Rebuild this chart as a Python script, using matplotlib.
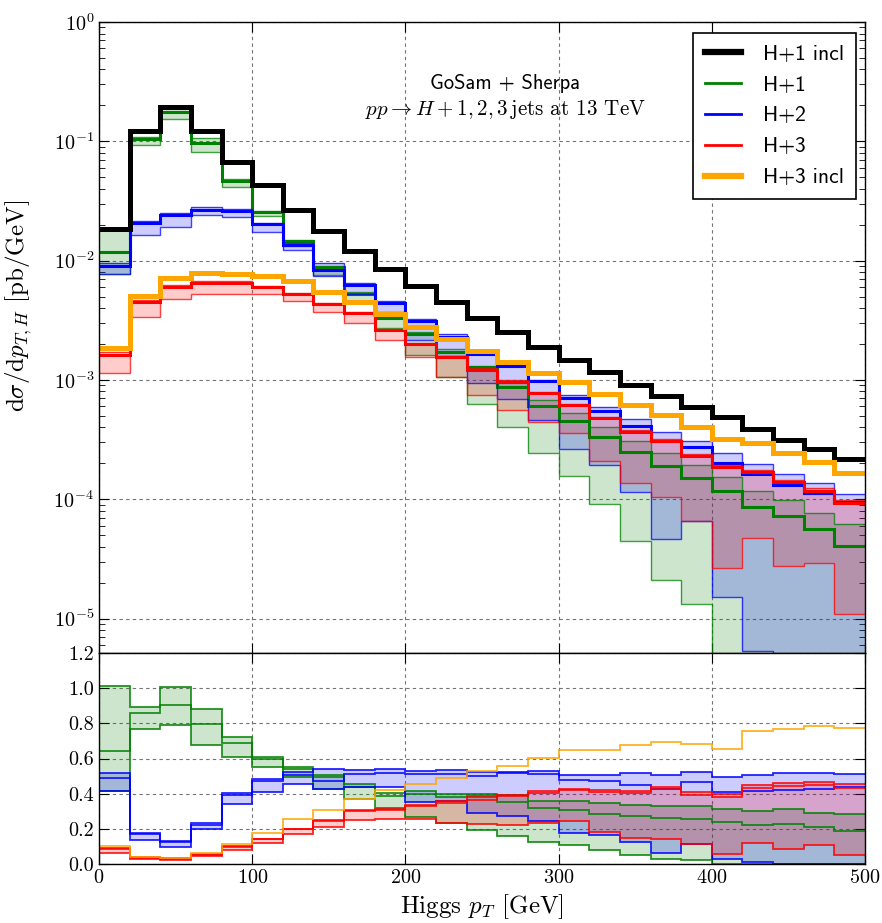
import numpy as np
import matplotlib
matplotlib.use("Agg")
from matplotlib import pyplot as plt
from matplotlib.lines import Line2D

plt.rcParams['font.family'] = ['cmr10', 'DejaVu Serif']
plt.rcParams['mathtext.fontset'] = 'cm'
plt.rcParams['axes.unicode_minus'] = False
plt.rcParams['axes.formatter.use_mathtext'] = True

# bin edges in Higgs pT [GeV]
pt_edges = np.arange(0, 501, 20)

# H+1 incl (central)
h1incl = [0.0185, 0.121, 0.195, 0.121, 0.0675, 0.0428, 0.0268, 0.0177, 0.0121, 0.0085,
          0.0061, 0.0045, 0.0033, 0.00251, 0.0019, 0.00147, 0.00117, 0.00091, 0.00073, 0.00059,
          0.00049, 0.00039, 0.000315, 0.000263, 0.000216]
# H+3 incl (central)
h3incl = [0.00186, 0.00508, 0.0071, 0.0079, 0.0077, 0.0075, 0.0068, 0.00548, 0.00448, 0.00358,
          0.00279, 0.00219, 0.00174, 0.0014, 0.00115, 0.000955, 0.000757, 0.000616, 0.000508, 0.000401,
          0.00032, 0.000294, 0.000242, 0.000206, 0.000167]
# H+1 exclusive with scale band
h1_c = [0.0119, 0.104, 0.176, 0.096, 0.0463, 0.0255, 0.0145, 0.0088, 0.0053, 0.0033,
        0.00244, 0.00172, 0.00128, 0.00088, 0.0006, 0.000455, 0.00033, 0.00025, 0.00019, 0.000151,
        0.000118, 8.65e-5, 7.23e-5, 5.59e-5, 4.08e-5]
h1_hi = [0.0187, 0.108, 0.196, 0.107, 0.0487, 0.0261, 0.0148, 0.0090, 0.0055, 0.00345,
         0.00253, 0.0018, 0.00132, 0.00098, 0.00068, 0.000525, 0.000405, 0.000305, 0.000242, 0.000194,
         0.000153, 0.000117, 9.85e-5, 7.7e-5, 6.16e-5]
h1_lo = [0.0077, 0.093, 0.154, 0.082, 0.0411, 0.0235, 0.0133, 0.0076, 0.0045, 0.0027,
         0.00163, 0.00105, 0.00063, 0.0004, 0.000242, 0.000157, 9.06e-5, 4.46e-5, 2.1e-5, 1.32e-5,
         1e-7, 1e-7, 1e-7, 1e-7, 1e-7]
# H+2
h2_c = [0.0090, 0.0205, 0.0242, 0.0268, 0.0263, 0.0201, 0.0136, 0.0084, 0.0062, 0.0044,
        0.00312, 0.0023, 0.00166, 0.0013, 0.00097, 0.0007, 0.000552, 0.00041, 0.00031, 0.000275,
        0.0002, 0.000163, 0.000132, 0.000112, 9.5e-5]
h2_hi = [0.0096, 0.0216, 0.0252, 0.028, 0.0272, 0.0208, 0.0140, 0.0096, 0.0065, 0.0046,
         0.00322, 0.00241, 0.00172, 0.00131, 0.001, 0.000747, 0.000589, 0.00047, 0.000368, 0.00031,
         0.000242, 0.000197, 0.000163, 0.000136, 0.00011]
h2_lo = [0.0077, 0.0163, 0.019, 0.0241, 0.0231, 0.0175, 0.0122, 0.0075, 0.0053, 0.0037,
         0.00216, 0.0016, 0.00095, 0.00069, 0.00046, 0.000262, 0.000194, 0.000115, 4.6e-5, 6.6e-5,
         1.52e-5, 5.3e-6, 1e-7, 1e-7, 1e-7]
# H+3
h3_c = [0.00163, 0.00447, 0.006, 0.0065, 0.0065, 0.006, 0.0053, 0.00433, 0.00362, 0.00262,
        0.002, 0.00155, 0.00121, 0.000966, 0.000771, 0.000616, 0.000477, 0.000368, 0.00031, 0.00023,
        0.000187, 0.000168, 0.00014, 0.000118, 9.3e-5]
h3_hi = [0.00172, 0.00468, 0.0063, 0.0068, 0.0068, 0.0061, 0.0054, 0.00444, 0.00373, 0.00267,
         0.00205, 0.0016, 0.00125, 0.00099, 0.00079, 0.00063, 0.00049, 0.00038, 0.00032, 0.00024,
         0.000195, 0.000175, 0.000145, 0.000123, 9.8e-5]
h3_lo = [0.00115, 0.0034, 0.0048, 0.0053, 0.0052, 0.0052, 0.0046, 0.00373, 0.003, 0.00216,
         0.00155, 0.00105, 0.00075, 0.00056, 0.000446, 0.00036, 0.00021, 0.000136, 0.000105, 6.6e-5,
         2.67e-5, 4.7e-5, 2.77e-5, 2.9e-5, 1.09e-5]

labels = ['H+1 incl', 'H+1', 'H+2', 'H+3', 'H+3 incl']
colors = ['black', 'green', 'blue', 'red', 'orange']

bands = [(h1_c, h1_hi, h1_lo, 'green'),
         (h2_c, h2_hi, h2_lo, 'blue'),
         (h3_c, h3_hi, h3_lo, 'red')]

ref = np.array(h1incl)

fig = plt.figure(figsize=(8.82, 9.23), dpi=100)
ax = fig.add_axes([99/882, 1-653/923, 766/882, 631/923])
rax = fig.add_axes([99/882, 1-864/923, 766/882, 211/923], sharex=ax)

grid_kw = dict(ls=(0, (3, 3)), color='0.45', lw=0.8)

# ---- main panel
for c, hi, lo, col in bands:
    ax.stairs(hi, pt_edges, baseline=lo, fill=True, color=col, alpha=0.2, lw=0)
for c, hi, lo, col in bands:
    ax.stairs(hi, pt_edges, baseline=None, color=col, lw=1.0, alpha=0.75)
    ax.stairs(lo, pt_edges, baseline=None, color=col, lw=1.0, alpha=0.75)
    ax.stairs(c, pt_edges, baseline=None, color=col, lw=2.2)
ax.stairs(h1incl, pt_edges, baseline=None, color='black', lw=3.6)
ax.stairs(h3incl, pt_edges, baseline=None, color='orange', lw=3.6)

ax.set_yscale('log')
ax.set_xlim(0, 500)
ax.set_ylim(5.14e-6, 1.0)
ax.set_axisbelow(True)
ax.grid(True, which='major', **grid_kw)
ax.tick_params(which='both', direction='in', top=True, right=True, labelbottom=False,
               labelsize=14.5)
ax.tick_params(which='major', length=7)
ax.tick_params(which='minor', length=4)
ax.set_ylabel(r'$\mathrm{d}\sigma/\mathrm{d}p_{T,H}$ [pb/GeV]', fontsize=18)
ax.yaxis.set_label_coords(-0.085, 0.55)

ax.text(0.53, 0.903, 'GoSam + Sherpa', transform=ax.transAxes, ha='center', va='center',
        fontsize=14.8, family=['cmss10', 'DejaVu Sans'])
ax.text(0.531, 0.861, r'$pp \to H+1,2,3\,$jets at 13 TeV', transform=ax.transAxes,
        ha='center', va='center', fontsize=15.2)

lw_leg = [4.5, 2, 2, 2, 4.5]
handles = [Line2D([], [], color=col, lw=lw) for col, lw in zip(colors, lw_leg)]
leg = ax.legend(handles, labels, loc='upper right', bbox_to_anchor=(0.988, 0.983),
                borderaxespad=0, fancybox=False, framealpha=1, edgecolor='black',
                prop={'family': ['cmss10', 'DejaVu Sans'], 'size': 15.5},
                handlelength=1.7, labelspacing=0.55, handletextpad=1.0, borderpad=0.55)
leg.get_frame().set_linewidth(1.2)

# ---- ratio panel (relative to H+1 incl)
for c, hi, lo, col in bands:
    rax.stairs(np.array(hi) / ref, pt_edges, baseline=np.array(lo) / ref, fill=True,
               color=col, alpha=0.2, lw=0)
for c, hi, lo, col in bands:
    for arr in (hi, lo, c):
        rax.stairs(np.array(arr) / ref, pt_edges, baseline=None, color=col, lw=1.3, alpha=0.85)
rax.stairs(np.array(h3incl) / ref, pt_edges, baseline=None, color='orange', lw=1.3, alpha=0.85)

rax.set_ylim(0, 1.2)
rax.set_yticks(np.arange(0, 1.21, 0.2))
rax.set_yticklabels(['%.1f' % v for v in np.arange(0, 1.21, 0.2)])
rax.set_xticks(np.arange(0, 501, 100))
rax.set_axisbelow(True)
rax.grid(True, which='major', **grid_kw)
rax.tick_params(which='both', direction='in', top=True, right=True, labelsize=14.5, length=7)
rax.set_xlabel(r'Higgs $p_T$ [GeV]', fontsize=18)

for a in (ax, rax):
    for s in a.spines.values():
        s.set_linewidth(1.0)

fig.savefig('out.png', dpi=100)
